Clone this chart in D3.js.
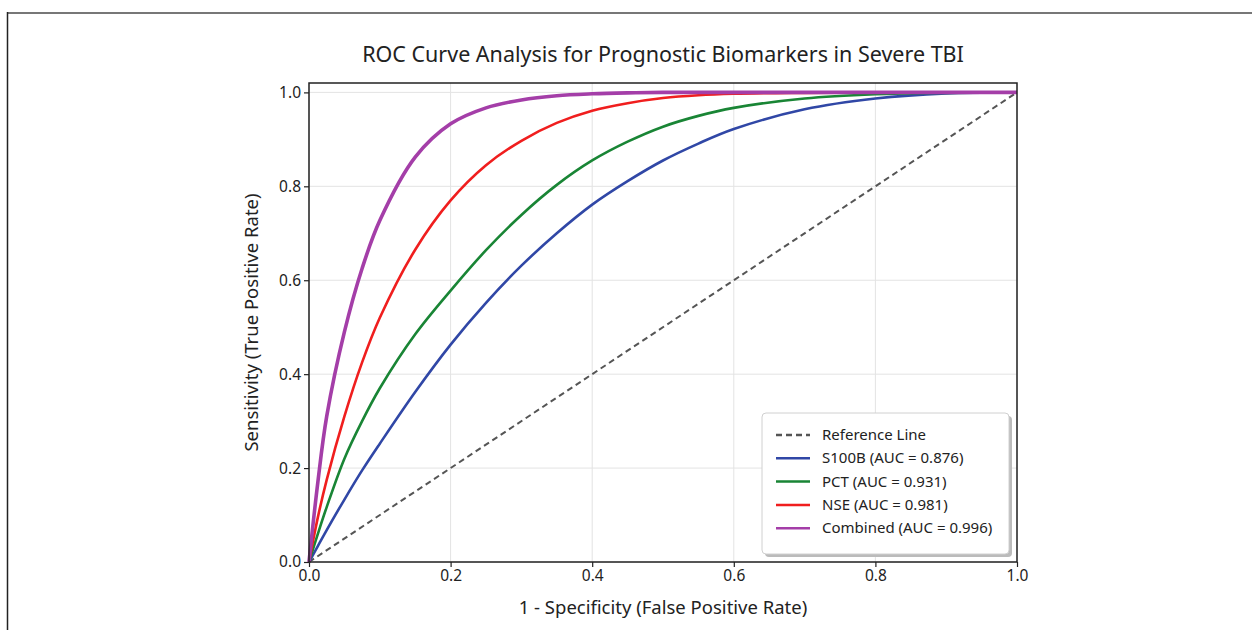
<!doctype html>
<html lang=en>
<head>
<meta charset=utf-8>
<title>ROC Curve</title>
<script src="https://d3js.org/d3.v7.min.js"></script>
<style>
  body { margin: 0; background: #fff; }
  svg text { font-family: "Noto Sans", "Open Sans", sans-serif; fill: #222; }
</style>
</head>
<body>
<div id="container"></div>
<script>
    // false positive rate sample points
    var fpr = [0, 0.0125, 0.025, 0.05, 0.075, 0.1, 0.15, 0.2, 0.25, 0.3, 0.35, 0.4, 0.45, 0.5, 0.55, 0.6, 0.7, 0.8, 0.9, 1.0];
    // sensitivity
    var s100b    = [0, 0.034, 0.068, 0.133, 0.195, 0.252, 0.362, 0.463, 0.552, 0.631, 0.70, 0.761, 0.811, 0.855, 0.891, 0.922, 0.964, 0.987, 0.998, 1.0];
    var pct      = [0, 0.06, 0.117, 0.22, 0.30, 0.37, 0.485, 0.578, 0.664, 0.739, 0.803, 0.855, 0.895, 0.927, 0.95, 0.967, 0.987, 0.996, 0.999, 1.0];
    var nse      = [0, 0.095, 0.175, 0.31, 0.425, 0.52, 0.665, 0.77, 0.845, 0.897, 0.935, 0.961, 0.977, 0.988, 0.994, 0.997, 0.999, 1.0, 1.0, 1.0];
    var combined = [0, 0.17, 0.31, 0.49, 0.625, 0.727, 0.862, 0.933, 0.967, 0.984, 0.993, 0.997, 0.999, 1.0, 1.0, 1.0, 1.0, 1.0, 1.0, 1.0];

    var names  = ["S100B (AUC = 0.876)", "PCT (AUC = 0.931)", "NSE (AUC = 0.981)", "Combined (AUC = 0.996)"];
    var colors = ["#3047a6", "#198535", "#f01e1e", "#a43ea8"];
    var xTicks = [0, 0.2, 0.4, 0.6, 0.8, 1.0];
    var yTicks = [0, 0.2, 0.4, 0.6, 0.8, 1.0];

    var w = 1252, h = 630;
    var svg = d3.select("#container").append("svg")
        .attr("width", w).attr("height", h);

    // outer frame of the figure
    svg.append("line").attr("x1", 7.5).attr("x2", w).attr("y1", 13).attr("y2", 13)
        .attr("stroke", "#777").attr("stroke-width", 2);
    svg.append("line").attr("x1", 7.5).attr("x2", 7.5).attr("y1", 12).attr("y2", h)
        .attr("stroke", "#222").attr("stroke-width", 1.5);

    var pl = 309, pr = 1017, pt = 83, pb = 562;
    var x = d3.scaleLinear().domain([0, 1]).range([pl, pr]);
    var y = d3.scaleLinear().domain([0, 1.02]).range([pb, pt]);

    // grid
    svg.append("g").selectAll("line").data(xTicks).enter().append("line")
        .attr("x1", d => x(d)).attr("x2", d => x(d)).attr("y1", pt).attr("y2", pb)
        .attr("stroke", "#e3e3e3").attr("stroke-width", 1);
    svg.append("g").selectAll("line").data(yTicks).enter().append("line")
        .attr("y1", d => y(d)).attr("y2", d => y(d)).attr("x1", pl).attr("x2", pr)
        .attr("stroke", "#e3e3e3").attr("stroke-width", 1);

    // axes
    var xAxis = svg.append("g").attr("transform", "translate(0," + pb + ")")
        .call(d3.axisBottom(x).tickValues(xTicks).tickFormat(d3.format(".1f")).tickSize(5).tickPadding(3));
    var yAxis = svg.append("g").attr("transform", "translate(" + pl + ",0)")
        .call(d3.axisLeft(y).tickValues(yTicks).tickFormat(d3.format(".1f")).tickSize(5).tickPadding(3));
    [xAxis, yAxis].forEach(function(a) {
        a.select(".domain").remove();
        a.selectAll(".tick line").attr("stroke", "#222").attr("stroke-width", 1.2);
        a.selectAll(".tick text").style("font-size", "15.5px").attr("fill", "#222");
    });

    // diagonal reference
    var line = d3.line().x(d => x(d[0])).y(d => y(d[1])).curve(d3.curveCatmullRom.alpha(0.5));
    svg.append("path").datum([[0, 0], [1, 1]])
        .attr("d", line).attr("fill", "none")
        .attr("stroke", "#555").attr("stroke-width", 2).attr("stroke-dasharray", "6,4");

    var series = [s100b, pct, nse, combined];
    svg.append("g").selectAll("path").data(series).enter().append("path")
        .attr("d", function(s) { return line(fpr.map((f, i) => [f, s[i]])); })
        .attr("fill", "none")
        .attr("stroke", (d, i) => colors[i])
        .attr("stroke-width", (d, i) => i == 3 ? 3.6 : 2.6);

    // plot frame
    svg.append("rect").attr("x", pl).attr("y", pt)
        .attr("width", pr - pl).attr("height", pb - pt)
        .attr("fill", "none").attr("stroke", "#222").attr("stroke-width", 1.5);

    // title and labels
    svg.append("text").attr("x", (pl + pr) / 2).attr("y", 62)
        .attr("text-anchor", "middle").style("font-size", "21.5px")
        .text("ROC Curve Analysis for Prognostic Biomarkers in Severe TBI");
    svg.append("text").attr("x", (pl + pr) / 2).attr("y", 614)
        .attr("text-anchor", "middle").style("font-size", "18.5px")
        .text("1 - Specificity (False Positive Rate)");
    svg.append("text").attr("transform", "translate(258," + (pt + pb) / 2 + ") rotate(-90)")
        .attr("text-anchor", "middle").style("font-size", "18.5px")
        .text("Sensitivity (True Positive Rate)");

    // legend
    var lg = svg.append("g").attr("transform", "translate(762,413)");
    lg.append("rect").attr("x", 3).attr("y", 3).attr("width", 247).attr("height", 141).attr("rx", 4)
        .attr("fill", "#bbb");
    lg.append("rect").attr("x", 0).attr("y", 0).attr("width", 247).attr("height", 141).attr("rx", 4)
        .attr("fill", "#fff").attr("stroke", "#d0d0d0");
    var items = [{name: "Reference Line", color: "#555", dash: "6,4"}].concat(
        names.map((n, i) => ({name: n, color: colors[i], dash: null})));
    var row = lg.selectAll("g.item").data(items).enter().append("g")
        .attr("transform", (d, i) => "translate(0," + (22 + i * 23.3) + ")");
    row.append("line").attr("x1", 14).attr("x2", 48).attr("y1", 0).attr("y2", 0)
        .attr("stroke", d => d.color).attr("stroke-width", 2.5)
        .attr("stroke-dasharray", d => d.dash);
    row.append("text").attr("x", 60).attr("y", 5).style("font-size", "15px").text(d => d.name);
</script>
</body>
</html>
